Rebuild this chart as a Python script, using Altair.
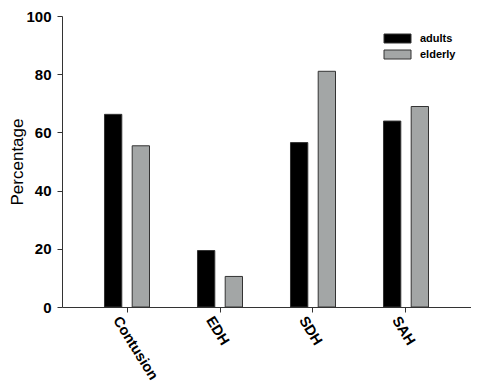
import altair as alt
import pandas as pd

categories = ["Contusion", "EDH", "SDH", "SAH"]
groups = ["adults", "elderly"]
adults = [66.2, 19.4, 56.5, 63.9]
elderly = [55.4, 10.5, 81.0, 68.9]

rows = []
for c, a, e in zip(categories, adults, elderly):
    rows.append({"type": c, "group": "adults", "pct": a})
    rows.append({"type": c, "group": "elderly", "pct": e})
df = pd.DataFrame(rows)

FONT = "Liberation Sans"
swatch = "M-3,-1H3V1H-3Z"

chart = alt.Chart(df).mark_bar(stroke="#333333", strokeWidth=1).encode(
    x=alt.X("type:N", sort=categories, title=None,
            scale=alt.Scale(paddingInner=0.516, paddingOuter=0.457),
            axis=alt.Axis(labelAngle=58, labelAlign="left", labelBaseline="top",
                          labelFont=FONT, labelFontSize=14.5, labelFontWeight="bold",
                          labelColor="black", domainColor="#333333", tickColor="#333333",
                          tickSize=5, labelPadding=2, labelOffset=-5)),
    xOffset=alt.XOffset("group:N", sort=groups,
                        scale=alt.Scale(paddingInner=0.375, paddingOuter=0)),
    y=alt.Y("pct:Q", title="Percentage",
            scale=alt.Scale(domain=[0, 100], nice=False),
            axis=alt.Axis(values=[0, 20, 40, 60, 80, 100], grid=False,
                          labelFont=FONT, labelFontSize=15, labelFontWeight="bold",
                          labelColor="black", domainColor="#333333", tickColor="#333333",
                          tickSize=5, labelPadding=6,
                          titleFont=FONT, titleFontSize=17, titleFontWeight="normal",
                          titleColor="black", titleX=-36, titleBaseline="bottom")),
    fill=alt.Fill("group:N", sort=groups,
                  scale=alt.Scale(domain=groups, range=["#000000", "#a3a6a6"]),
                  legend=alt.Legend(title=None, orient="none", legendX=330, legendY=17,
                                    symbolType=swatch, symbolSize=81,
                                    symbolStrokeColor="#333333", symbolStrokeWidth=1,
                                    labelFont=FONT, labelFontSize=11, labelFontWeight="bold",
                                    labelColor="black", rowPadding=3, labelOffset=17)),
).properties(
    width=409, height=291,
    padding={"left": 54, "top": 8, "right": 0, "bottom": 75},
    autosize=alt.AutoSizeParams(type="none"),
).configure_view(stroke=None)

chart.save("out.html", embed_options={"renderer": "svg", "actions": False})
